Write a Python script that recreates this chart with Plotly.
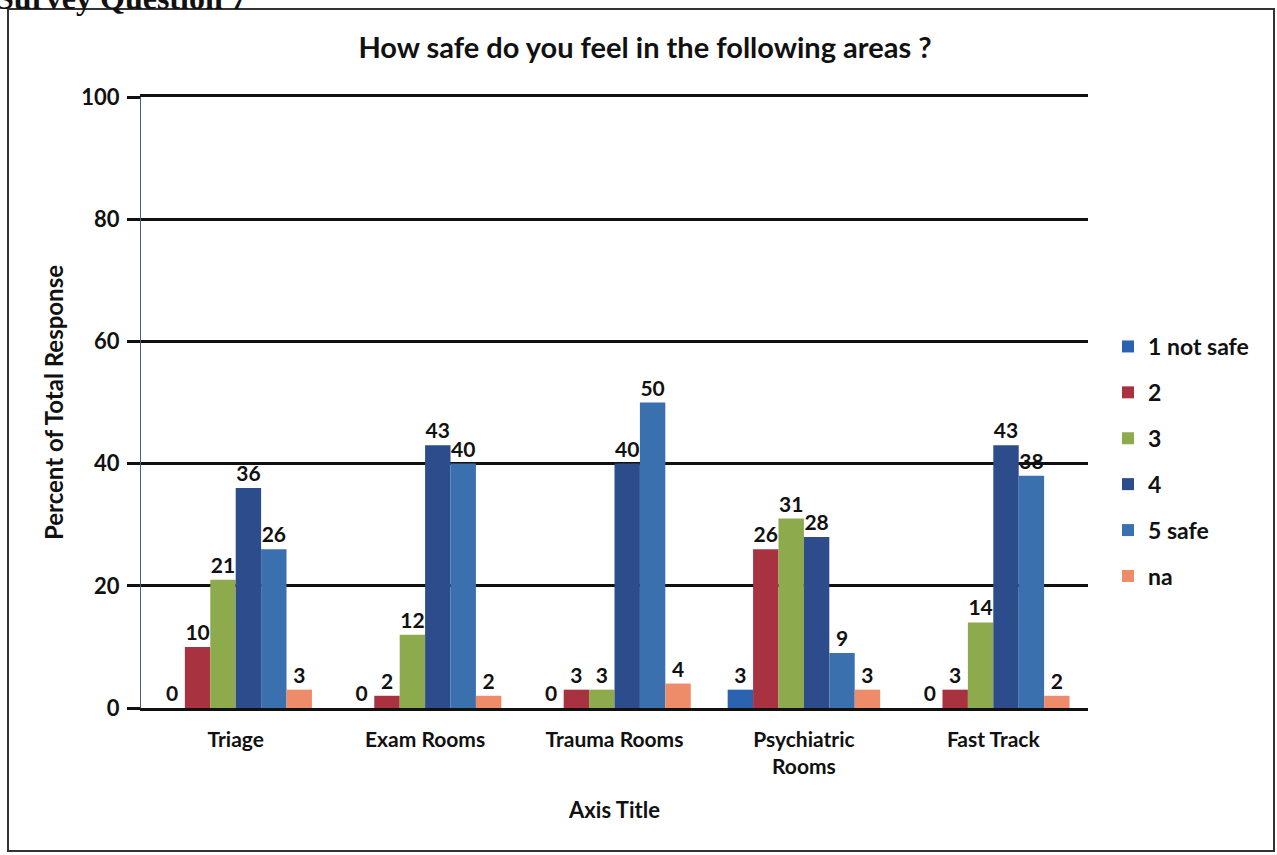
import plotly.graph_objects as go

categories = ["Triage", "Exam Rooms", "Trauma Rooms", "Psychiatric<br>Rooms", "Fast Track"]
series_names = ["1 not safe", "2", "3", "4", "5 safe", "na"]
s1 = [0, 0, 0, 3, 0]
s2 = [10, 2, 3, 26, 3]
s3 = [21, 12, 3, 31, 14]
s4 = [36, 43, 40, 28, 43]
s5 = [26, 40, 50, 9, 38]
sna = [3, 2, 4, 3, 2]
y_ticks = [0, 20, 40, 60, 80, 100]

colors = ["#2C63B0", "#A8323F", "#8DAA4C", "#2D4C8C", "#3A70AE", "#EE8B69"]
all_series = [s1, s2, s3, s4, s5, sna]

W, H = 1277, 855
L, R, T, B = 141, 189, 97, 147
pw, ph = W - L - R, H - T - B

def px(x):
    return (x - L) / pw

def py(y):
    return (H - B - y) / ph

font_fam = "Lato, 'Open Sans', sans-serif"
ink = "#111111"

fig = go.Figure()
for i, (name, vals) in enumerate(zip(series_names, all_series)):
    fig.add_trace(go.Bar(
        x=categories, y=vals, name=name,
        marker=dict(color=colors[i], line=dict(width=0)),
        text=[str(v) for v in vals], textposition="outside",
        textfont=dict(family=font_fam, size=21, color=ink, weight="bold"),
        cliponaxis=False, legendgroup=name,
    ))

fig.update_layout(
    width=W, height=H,
    margin=dict(l=L, r=R, t=T, b=B),
    paper_bgcolor="white", plot_bgcolor="white",
    barmode="group", bargap=0.195, bargroupgap=0,
    font=dict(family=font_fam, size=20, color=ink),
    title=dict(text="How safe do you feel in the following areas ?",
               x=645 / W, xanchor="center", xref="container", y=1 - 48 / H, yanchor="middle",
               font=dict(size=29, family=font_fam, color=ink, weight="bold")),
    showlegend=True,
    legend=dict(x=px(1108), xanchor="left", y=py(325), yanchor="top",
                font=dict(size=23, family=font_fam, color=ink, weight="bold"),
                tracegroupgap=13, itemwidth=30, bgcolor="rgba(0,0,0,0)",
                traceorder="grouped"),
)

fig.update_xaxes(
    showline=True, linecolor=ink, linewidth=2.5, mirror=True,
    ticks="", ticklabelstandoff=11,
    tickfont=dict(size=21, family=font_fam, color=ink, weight="bold"),
    title=dict(text="Axis Title", font=dict(size=22, family=font_fam, color=ink, weight="bold"), standoff=26),
)
fig.update_yaxes(
    range=[0, 100], tickvals=y_ticks,
    showgrid=True, gridcolor=ink, gridwidth=2.5,
    zeroline=False, showline=True, linecolor="#4a5a80", linewidth=1.2,
    ticks="outside", ticklen=13, tickcolor=ink, tickwidth=2.5, ticklabelstandoff=3,
    tickfont=dict(size=22, family=font_fam, color=ink, weight="bold"),
    title=dict(text="Percent of Total Response", font=dict(size=24, family=font_fam, color=ink, weight="bold"), standoff=10),
)

# outer border
fig.add_shape(type="rect", xref="paper", yref="paper",
              x0=px(8), x1=px(1274), y0=py(851), y1=py(9),
              line=dict(color="#333333", width=2), fillcolor="rgba(0,0,0,0)", layer="below")

# partially visible page heading (cut off at top edge, as in the scan)
fig.add_annotation(text="<b>Survey Question 7</b>", xref="paper", yref="paper",
                   x=px(-6), xanchor="left", y=py(18), yanchor="bottom",
                   showarrow=False, font=dict(family="'Liberation Serif', serif", size=32, color=ink))

fig.write_html("out.html", config={"displayModeBar": False},
               post_script="document.body.style.margin='0';")
